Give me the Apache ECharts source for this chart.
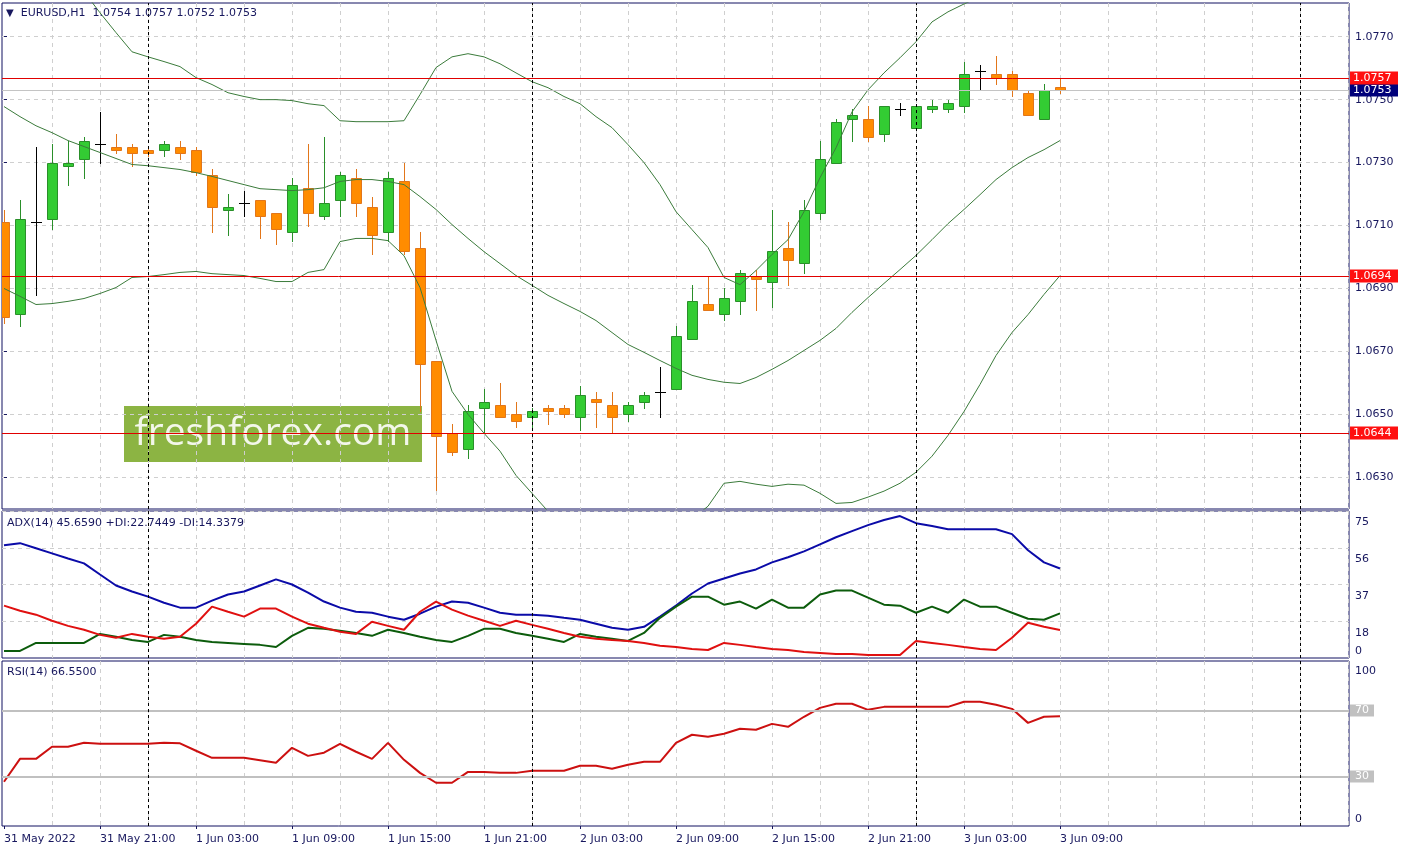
<!DOCTYPE html>
<html><head><meta charset="utf-8">
<script src="https://cdn.jsdelivr.net/npm/echarts@6/dist/echarts.min.js"></script>
<style>html,body{margin:0;padding:0;background:#fff}#c{width:1408px;height:849px}</style>
</head><body><div id="c"></div>
<script>
// ---------- data ----------
const symbol = 'EURUSD,H1';
const firstHour = 15;           // first bar: 31 May 2022 15:00 (H1 bars)
const labelStep = 6;            // one time label every 6 bars
const timeLabels = ['31 May 2022','31 May 21:00','1 Jun 03:00','1 Jun 09:00','1 Jun 15:00','1 Jun 21:00',
  '2 Jun 03:00','2 Jun 09:00','2 Jun 15:00','2 Jun 21:00','3 Jun 03:00','3 Jun 09:00'];
const opens = [1.0711,1.0682,1.0711,1.0712,1.0729,1.0731,1.0736,1.0735,1.0735,1.0734,1.0734,1.0735,1.0734,1.0726,1.0715,1.0717,1.0718,1.0714,1.0708,1.0722,1.0713,1.0718,1.0725,1.0716,1.0708,1.0724,1.0703,1.0667,1.0644,1.0639,1.0652,1.0653,1.0650,1.0649,1.0652,1.0652,1.0649,1.0655,1.0653,1.0650,1.0654,1.0657,1.0658,1.0674,1.0685,1.0682,1.0686,1.0694,1.0692,1.0703,1.0698,1.0714,1.0730,1.0744,1.0744,1.0739,1.0747,1.0741,1.0747,1.0747,1.0748,1.0759,1.0758,1.0758,1.0752,1.0744,1.0754];
const highs = [1.0715,1.0718,1.0735,1.0736,1.0737,1.0738,1.0746,1.0739,1.0736,1.0735,1.0737,1.0737,1.0735,1.0728,1.0720,1.0721,1.0718,1.0714,1.0725,1.0736,1.0738,1.0727,1.0728,1.0719,1.0727,1.0730,1.0708,1.0667,1.0647,1.0653,1.0658,1.0660,1.0654,1.0652,1.0653,1.0653,1.0659,1.0657,1.0657,1.0654,1.0657,1.0665,1.0678,1.0691,1.0694,1.0690,1.0696,1.0696,1.0715,1.0711,1.0718,1.0737,1.0744,1.0747,1.0748,1.0748,1.0749,1.0748,1.0750,1.0750,1.0762,1.0761,1.0764,1.0759,1.0753,1.0755,1.0757];
const lows = [1.0679,1.0678,1.0688,1.0709,1.0723,1.0725,1.0730,1.0733,1.0729,1.0732,1.0732,1.0731,1.0726,1.0708,1.0707,1.0713,1.0706,1.0704,1.0705,1.0710,1.0712,1.0713,1.0713,1.0701,1.0705,1.0701,1.0651,1.0626,1.0637,1.0636,1.0644,1.0649,1.0646,1.0646,1.0647,1.0649,1.0645,1.0646,1.0644,1.0648,1.0652,1.0649,1.0658,1.0674,1.0683,1.0680,1.0682,1.0683,1.0684,1.0691,1.0695,1.0712,1.0730,1.0737,1.0737,1.0737,1.0745,1.0741,1.0746,1.0746,1.0746,1.0753,1.0755,1.0751,1.0745,1.0744,1.0752];
const closes = [1.0681,1.0712,1.0711,1.0730,1.0730,1.0737,1.0736,1.0734,1.0733,1.0733,1.0736,1.0733,1.0727,1.0716,1.0716,1.0717,1.0713,1.0709,1.0723,1.0714,1.0717,1.0726,1.0717,1.0707,1.0725,1.0702,1.0666,1.0643,1.0638,1.0651,1.0654,1.0649,1.0648,1.0651,1.0651,1.0650,1.0656,1.0654,1.0649,1.0653,1.0656,1.0657,1.0675,1.0686,1.0683,1.0687,1.0695,1.0693,1.0702,1.0699,1.0715,1.0731,1.0743,1.0745,1.0738,1.0748,1.0747,1.0748,1.0748,1.0749,1.0758,1.0759,1.0757,1.0753,1.0745,1.0753,1.0753];
const bbUpper = [1.08071,1.08024,1.07976,1.07938,1.07897,1.07843,1.07776,1.07713,1.07652,1.07636,1.07621,1.07605,1.0757,1.07548,1.07522,1.0751,1.075,1.075,1.07497,1.07487,1.07481,1.07433,1.0743,1.0743,1.0743,1.07433,1.07516,1.07602,1.07636,1.07646,1.07636,1.07614,1.07585,1.07557,1.07538,1.0751,1.07487,1.07446,1.07411,1.07357,1.073,1.0723,1.07144,1.07087,1.0703,1.06935,1.06912,1.06957,1.07008,1.07055,1.07144,1.07252,1.07347,1.07461,1.07531,1.07585,1.07633,1.07684,1.07747,1.07779,1.07804,1.07827,1.07849,1.07865,1.0788,1.07893,1.07906];
const bbMiddle = [1.07478,1.07446,1.07417,1.07395,1.0737,1.07351,1.07332,1.07313,1.07294,1.0729,1.07284,1.07278,1.07268,1.07256,1.07243,1.0723,1.07217,1.07214,1.07211,1.07214,1.0722,1.0724,1.07246,1.07246,1.0724,1.0723,1.07192,1.07151,1.07103,1.07059,1.07017,1.06979,1.06941,1.0691,1.06878,1.06852,1.06827,1.06798,1.0676,1.06722,1.06697,1.06671,1.06646,1.06624,1.06611,1.06602,1.06598,1.06617,1.06643,1.06671,1.06703,1.06735,1.06773,1.06824,1.06871,1.06916,1.0696,1.07005,1.07055,1.07106,1.07151,1.07198,1.07246,1.07284,1.07316,1.07341,1.0737];
const bbLower = [1.069,1.06875,1.06849,1.06852,1.06859,1.06868,1.06884,1.06903,1.06935,1.06938,1.06944,1.06951,1.06954,1.06947,1.06944,1.06941,1.06932,1.06922,1.06922,1.06951,1.0696,1.07049,1.07059,1.07059,1.07052,1.07004,1.06903,1.06735,1.06573,1.065,1.0644,1.06383,1.06306,1.06249,1.06192,1.06135,1.06103,1.06071,1.06056,1.06056,1.06065,1.06087,1.06119,1.06167,1.06208,1.06281,1.06287,1.06278,1.06271,1.06278,1.06275,1.06249,1.06217,1.0622,1.06237,1.06256,1.06281,1.06316,1.06367,1.06433,1.06509,1.06595,1.06687,1.0676,1.06817,1.06881,1.06941];
const adx = [57.5,58.6,56.0,53.4,50.8,48.3,42.6,37.0,33.9,31.3,28.2,25.7,25.7,29.3,32.4,33.9,37.0,40.1,37.5,33.4,28.8,25.7,23.6,23.1,21.1,19.5,22.6,26.2,28.8,28.2,25.7,23.1,22.1,22.1,21.6,20.5,19.5,17.5,15.4,14.4,15.9,21.1,26.7,32.9,38.0,40.6,43.1,45.2,48.8,51.4,54.4,58.0,61.6,64.7,67.8,70.4,72.4,68.8,67.3,65.7,65.7,65.7,65.7,63.2,55.0,48.8,45.659];
const plusDI = [3.6,3.6,7.7,7.7,7.7,7.7,12.3,10.8,9.2,8.2,11.8,10.8,9.2,8.2,7.7,7.2,6.7,5.6,11.3,15.4,14.9,13.9,12.8,11.3,14.4,12.8,10.8,9.2,8.2,11.3,14.9,14.9,12.8,11.3,9.8,8.2,12.3,10.8,9.8,8.7,12.8,20.5,26.2,31.3,31.3,27.2,28.8,25.2,29.8,25.7,25.7,32.4,34.4,34.4,30.8,27.2,26.7,23.1,26.2,23.1,29.8,26.2,26.2,23.1,20.0,19.5,22.7449];
const minusDI = [26.7,24.1,22.1,19.0,16.4,14.4,11.8,10.3,12.3,10.8,9.8,10.8,17.5,26.2,23.6,21.1,25.2,25.2,21.1,17.5,15.4,13.4,12.3,18.5,16.4,14.4,23.6,28.8,24.7,21.6,19.0,16.4,19.0,16.9,14.9,12.8,10.8,9.8,9.2,8.7,7.7,6.2,5.6,4.6,4.1,7.7,6.7,5.6,4.6,4.1,3.1,2.6,2.1,2.1,1.5,1.5,1.5,8.7,7.7,6.7,5.6,4.6,4.1,10.3,18.0,15.9,14.3379];
const rsi = [26.8,40.7,40.7,48.0,48.0,50.4,49.8,49.8,49.8,49.8,50.4,50.1,45.6,41.3,41.3,41.3,39.8,38.3,47.4,42.5,44.4,49.8,45.0,40.7,50.4,40.1,32.2,26.2,26.2,32.8,32.8,32.2,32.2,33.5,33.5,33.5,36.5,36.5,34.7,37.1,38.9,38.9,50.4,55.3,54.1,55.9,58.9,58.3,61.9,60.1,66.2,71.6,74.1,74.1,70.4,72.2,72.2,72.2,72.2,72.2,75.3,75.3,73.5,71.0,62.5,66.2,66.55];
const priceLevels = [1.0757, 1.0694, 1.0644];
const bidPrice = 1.0753;
const priceTicks = [1.0630,1.0650,1.0670,1.0690,1.0710,1.0730,1.0750,1.0770];
const adxTicks = [18.75, 37.5, 56.25, 75];
const rsiLevels = [70, 30];

// ---------- layout / style ----------
const FONT = 'DejaVu Sans';
const NAVY = '#17175e';
const X_MIN = -0.125, X_MAX = 84.0625;
const n = opens.length;
const gridIdx = []; for (let k = 3; k <= 84; k += 3) gridIdx.push(k);
const labelIdx = timeLabels.map((_, k) => k * labelStep);
const daySepIdx = []; for (let k = 24 - firstHour; k <= 84; k += 24) daySepIdx.push(k);

const candleData = opens.map((o, i) => [i, o, closes[i], lows[i], highs[i]]);
const pair = arr => arr.map((v, i) => [i, v]);

function renderCandle(params, api) {
  const i = api.value(0), o = api.value(1), c = api.value(2), l = api.value(3), h = api.value(4);
  const top = api.coord([i, Math.max(o, c)]);
  const bot = api.coord([i, Math.min(o, c)]);
  const hi = api.coord([i, h]);
  const lo = api.coord([i, l]);
  const xc = Math.round(top[0]);
  const doji = o === c, bull = c > o;
  const stroke = doji ? '#000000' : (bull ? '#2a8f2a' : '#e2761a');
  const fill = bull ? '#33cc33' : '#ff8c00';
  const ch = [{type: 'line', shape: {x1: xc + 0.5, y1: Math.round(hi[1]), x2: xc + 0.5, y2: Math.round(lo[1]) + 1},
    style: {stroke: stroke, lineWidth: 1}}];
  if (doji) {
    const y = Math.round(top[1]) + 0.5;
    ch.push({type: 'line', shape: {x1: xc - 5, y1: y, x2: xc + 6, y2: y}, style: {stroke: '#000', lineWidth: 1}});
  } else {
    const yt = Math.round(top[1]), yb = Math.round(bot[1]);
    ch.push({type: 'rect', shape: {x: xc - 4.5, y: yt + 0.5, width: 10, height: Math.max(2, yb - yt)},
      style: {fill: fill, stroke: stroke, lineWidth: 1}});
  }
  return {type: 'group', children: ch};
}

// horizontal level line drawn through the axes, with a price box on the right edge
function renderLevel(params, api) {
  const v = api.value(0);
  const color = api.value(1) === 1 ? '#00007a' : '#ff1010';
  const line = api.value(1) === 1 ? '#c4c4c4' : '#e00000';
  const p0 = api.coord([X_MIN, v]);
  const p1 = api.coord([X_MAX, v]);
  const y = Math.round(p0[1]) + 0.5;
  return {type: 'group', children: [
    {type: 'line', shape: {x1: p0[0], y1: y, x2: p1[0], y2: y}, style: {stroke: line, lineWidth: 1}},
    {type: 'rect', shape: {x: p1[0] + 1, y: y - 7, width: 48, height: 13}, style: {fill: color}},
    {type: 'text', x: p1[0] + 4, y: y, style: {text: v.toFixed(4), fill: '#ffffff', font: '11px "DejaVu Sans"',
      verticalAlign: 'middle', align: 'left', textVerticalAlign: 'middle'}}
  ]};
}
const levelData = [[bidPrice, 1], ...priceLevels.map(v => [v, 0])];

const dash = {color: '#cfcfcf', type: [4, 4], width: 1};
function xAxisBase(gi) {
  return {type: 'value', gridIndex: gi, min: X_MIN, max: X_MAX, position: 'top',
    axisLine: {show: false}, axisLabel: {show: false},
    axisTick: {show: false, customValues: gridIdx},
    splitLine: {show: true, lineStyle: dash}};
}
function boxLabel(bg, fg, digits) {
  return {show: true, position: 'end', formatter: p => Number(p.value).toFixed(digits), backgroundColor: bg, color: fg,
    padding: [1, 5, 0, 5], distance: 1, fontSize: 11, fontFamily: FONT};
}
function sepMarkLine() {
  return {silent: true, symbol: ['none', 'none'], animation: false, precision: 5,
    lineStyle: {color: '#000000', type: [3, 3], width: 1}, label: {show: false},
    data: daySepIdx.map(v => ({xAxis: v}))};
}

const option = {
  animation: false,
  backgroundColor: '#ffffff',
  textStyle: {fontFamily: FONT},
  title: [
    {text: '{t|▼}  ' + symbol + '  ' + [opens[n-1], highs[n-1], lows[n-1], closes[n-1]].map(v => v.toFixed(4)).join(' '),
     left: 6, top: 8, padding: 0,
     textStyle: {fontSize: 11, fontWeight: 'normal', color: NAVY, fontFamily: FONT,
       rich: {t: {fontSize: 10, color: NAVY, fontFamily: FONT}}}},
    {text: 'ADX(14) ' + adx[n-1].toFixed(4) + ' +DI:' + plusDI[n-1].toFixed(4) + ' -DI:' + minusDI[n-1].toFixed(4),
     left: 7, top: 518, padding: 0, textStyle: {fontSize: 11, fontWeight: 'normal', color: NAVY, fontFamily: FONT}},
    {text: 'RSI(14) ' + rsi[n-1].toFixed(4),
     left: 7, top: 667, padding: 0, textStyle: {fontSize: 11, fontWeight: 'normal', color: NAVY, fontFamily: FONT}}
  ],
  grid: [
    {left: 2, top: 3, width: 1347, height: 506, show: true, borderColor: '#101060', borderWidth: 1, backgroundColor: '#fff'},
    {left: 2, top: 511, width: 1347, height: 147, show: true, borderColor: '#101060', borderWidth: 1, backgroundColor: '#fff'},
    {left: 2, top: 661, width: 1347, height: 165, show: true, borderColor: '#101060', borderWidth: 1, backgroundColor: '#fff'}
  ],
  xAxis: [
    xAxisBase(0), xAxisBase(1), xAxisBase(2),
    {type: 'value', gridIndex: 2, min: X_MIN, max: X_MAX, position: 'bottom',
     axisLine: {show: false}, splitLine: {show: false},
     axisTick: {show: true, length: 3, customValues: labelIdx, lineStyle: {color: NAVY}},
     axisLabel: {show: true, customValues: labelIdx, align: 'left', margin: 8, fontSize: 11, color: NAVY, fontFamily: FONT,
       formatter: v => timeLabels[Math.round(v / labelStep)] || ''}}
  ],
  yAxis: [
    {type: 'value', gridIndex: 0, position: 'right', min: 1.061992, max: 1.078071,
     axisLine: {show: false},
     axisTick: {show: true, length: 3, customValues: priceTicks, lineStyle: {color: NAVY}},
     axisLabel: {customValues: priceTicks, formatter: v => v.toFixed(4), margin: 6, fontSize: 11, color: NAVY, fontFamily: FONT},
     splitLine: {show: true, lineStyle: dash}},
    {type: 'value', gridIndex: 1, position: 'right', min: 0, max: 75,
     axisLine: {show: false},
     axisTick: {show: false, customValues: adxTicks},
     axisLabel: {customValues: adxTicks, formatter: v => String(Math.floor(v)), verticalAlign: 'top', padding: [6, 0, 0, 0],
       margin: 6, fontSize: 11, color: NAVY, fontFamily: FONT},
     splitLine: {show: true, lineStyle: dash}},
    {type: 'value', gridIndex: 1, position: 'right', min: 0, max: 75,
     axisLine: {show: false}, axisTick: {show: false, customValues: [0]}, splitLine: {show: false},
     axisLabel: {customValues: [0], formatter: v => String(v), verticalAlign: 'bottom', padding: [0, 0, 1, 0],
       margin: 6, fontSize: 11, color: NAVY, fontFamily: FONT}},
    {type: 'value', gridIndex: 2, position: 'right', min: 0, max: 100,
     axisLine: {show: false}, axisTick: {show: false, customValues: [100]}, splitLine: {show: false},
     axisLabel: {customValues: [100], formatter: v => String(v), verticalAlign: 'top', padding: [5, 0, 0, 0],
       margin: 6, fontSize: 11, color: NAVY, fontFamily: FONT}},
    {type: 'value', gridIndex: 2, position: 'right', min: 0, max: 100,
     axisLine: {show: false}, axisTick: {show: false, customValues: [0]}, splitLine: {show: false},
     axisLabel: {customValues: [0], formatter: v => String(v), verticalAlign: 'bottom', padding: [0, 0, 1, 0],
       margin: 6, fontSize: 11, color: NAVY, fontFamily: FONT}}
  ],
  series: [
    {type: 'custom', name: 'EURUSD', xAxisIndex: 0, yAxisIndex: 0, data: candleData, renderItem: renderCandle,
     encode: {x: 0, y: [1, 2, 3, 4]}, silent: true, clip: true, z: 2},
    {type: 'line', name: 'BB upper', xAxisIndex: 0, yAxisIndex: 0, data: pair(bbUpper), showSymbol: false, silent: true, z: 3,
     lineStyle: {color: '#3b7b3b', width: 1}},
    {type: 'line', name: 'BB middle', xAxisIndex: 0, yAxisIndex: 0, data: pair(bbMiddle), showSymbol: false, silent: true, z: 3,
     lineStyle: {color: '#3b7b3b', width: 1}},
    {type: 'line', name: 'BB lower', xAxisIndex: 0, yAxisIndex: 0, data: pair(bbLower), showSymbol: false, silent: true, z: 3,
     lineStyle: {color: '#3b7b3b', width: 1},
     markLine: sepMarkLine()},
    {type: 'custom', name: 'Levels', xAxisIndex: 0, yAxisIndex: 0, data: levelData, renderItem: renderLevel,
     encode: {y: 0}, silent: true, z: 4},
    {type: 'line', name: 'ADX', xAxisIndex: 1, yAxisIndex: 1, data: pair(adx), showSymbol: false, silent: true,
     lineStyle: {color: '#0b0ba8', width: 2},
     markLine: sepMarkLine()},
    {type: 'line', name: '+DI', xAxisIndex: 1, yAxisIndex: 1, data: pair(plusDI), showSymbol: false, silent: true,
     lineStyle: {color: '#0c5c0c', width: 2}},
    {type: 'line', name: '-DI', xAxisIndex: 1, yAxisIndex: 1, data: pair(minusDI), showSymbol: false, silent: true,
     lineStyle: {color: '#e01010', width: 2}},
    {type: 'line', name: 'RSI', xAxisIndex: 2, yAxisIndex: 3, data: pair(rsi), showSymbol: false, silent: true, z: 3,
     lineStyle: {color: '#cc1010', width: 2},
     markLine: {silent: true, symbol: ['none', 'none'], animation: false, precision: 5,
       lineStyle: {color: '#c0c0c0', type: 'solid', width: 2},
       label: boxLabel('#c0c0c0', '#ffffff', 0),
       data: rsiLevels.map(v => ({yAxis: v}))}},
    {type: 'line', name: 'RSI sep', xAxisIndex: 2, yAxisIndex: 3, data: [], showSymbol: false, silent: true,
     markLine: sepMarkLine()}
  ],
  graphic: [
    {type: 'group', left: 124, top: 406, z: 100, silent: true, children: [
      {type: 'rect', shape: {x: 0, y: 0, width: 298, height: 56}, style: {fill: '#8cb443'}},
      {type: 'text', x: 149, y: 28, style: {text: 'freshforex.com', fill: '#f3f7ea',
        font: '39px "Open Sans"', align: 'center', verticalAlign: 'middle', textAlign: 'center', textVerticalAlign: 'middle'}}
    ]}
  ]
};
const chart = echarts.init(document.getElementById('c'), null, {renderer: 'canvas'});
chart.setOption(option);
</script>
</body></html>
